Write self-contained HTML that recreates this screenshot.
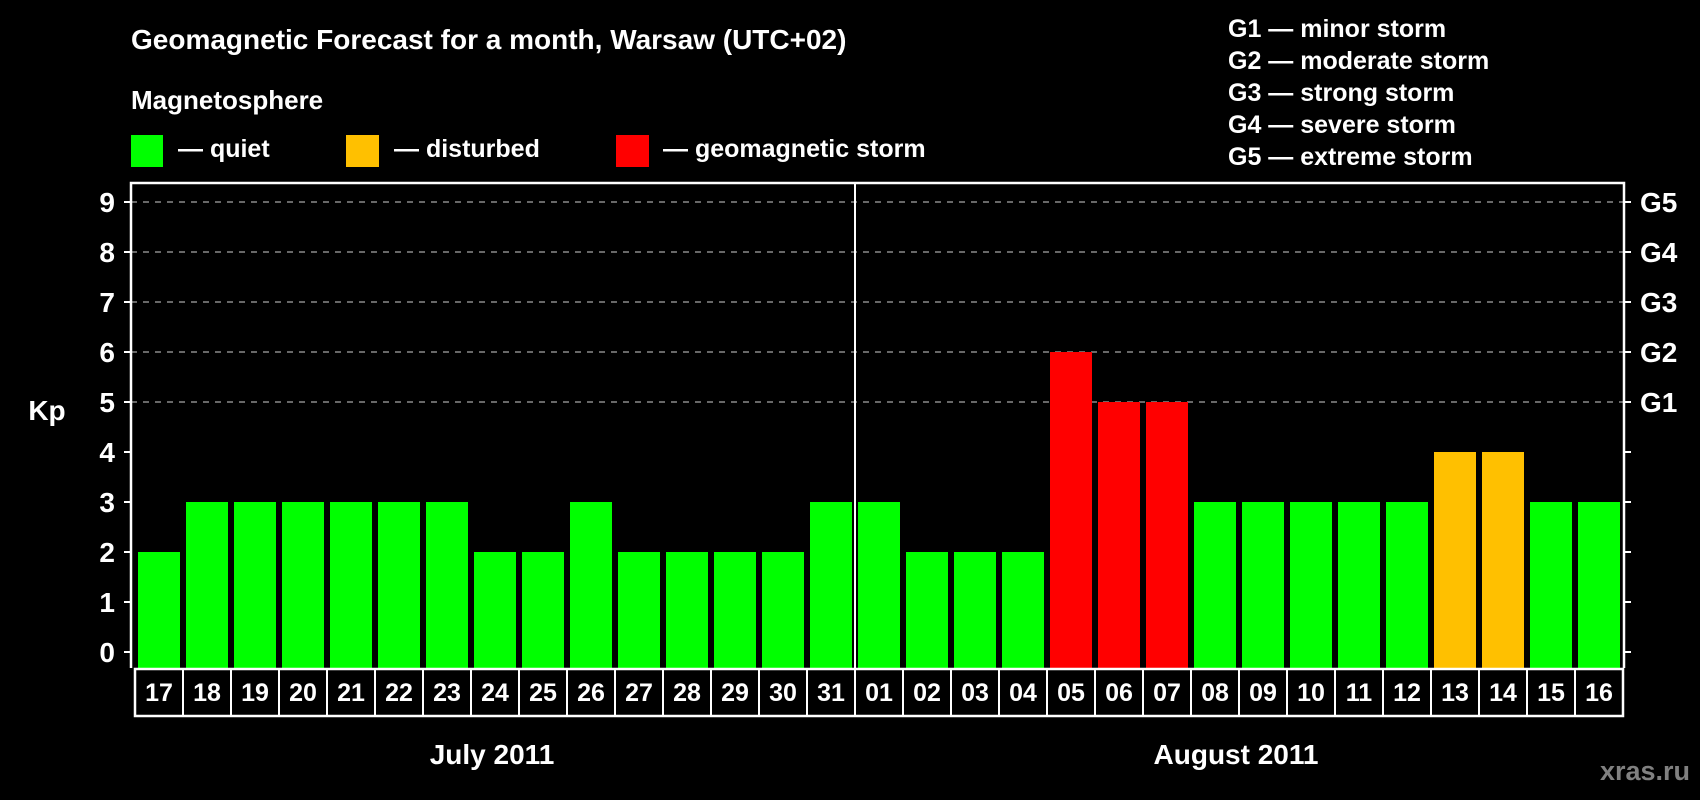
<!DOCTYPE html>
<html><head><meta charset="utf-8"><style>
html,body{margin:0;padding:0;background:#000;}
svg{display:block;font-family:"Liberation Sans",Arial,sans-serif;font-weight:bold;}
</style></head><body>
<svg id="chart" width="1700" height="800" viewBox="0 0 1700 800" xmlns="http://www.w3.org/2000/svg">
<rect x="0" y="0" width="1700" height="800" fill="#000"/>
<text x="131" y="49" fill="#fff" font-size="28">Geomagnetic Forecast for a month, Warsaw (UTC+02)</text>
<text x="131" y="109" fill="#fff" font-size="26">Magnetosphere</text>
<g>
<rect x="131" y="135" width="32" height="32" fill="#00ff00"/>
<text x="178" y="157" fill="#fff" font-size="25">— quiet</text></g>
<g>
<rect x="346" y="135" width="33" height="32" fill="#ffc000"/>
<text x="394" y="157" fill="#fff" font-size="25">— disturbed</text></g>
<g>
<rect x="616" y="135" width="33" height="32" fill="#ff0000"/>
<text x="663" y="157" fill="#fff" font-size="25">— geomagnetic storm</text></g>
<g fill="#fff" font-size="25">
<text x="1228" y="37">G1 — minor storm</text>
<text x="1228" y="69">G2 — moderate storm</text>
<text x="1228" y="101">G3 — strong storm</text>
<text x="1228" y="133">G4 — severe storm</text>
<text x="1228" y="165">G5 — extreme storm</text>
</g>
<g id="grid"></g>
<g id="bars"></g>
<g id="axes"></g>
<g id="xlabels"></g>
<text x="47" y="420" fill="#fff" font-size="28" text-anchor="middle">Kp</text>
<text x="492" y="764" fill="#fff" font-size="28" text-anchor="middle">July 2011</text>
<text x="1236" y="764" fill="#fff" font-size="28" text-anchor="middle">August 2011</text>
<text x="1690" y="780" fill="#808080" font-size="27" text-anchor="end">xras.ru</text>
</svg>
<script>
const days = ["17","18","19","20","21","22","23","24","25","26","27","28","29","30","31","01","02","03","04","05","06","07","08","09","10","11","12","13","14","15","16"];
const kpValues = [2,3,3,3,3,3,3,2,2,3,2,2,2,2,3,3,2,2,2,6,5,5,3,3,3,3,3,4,4,3,3];
const yTicks = [0,1,2,3,4,5,6,7,8,9];
const gLevels = ["G1","G2","G3","G4","G5"];
const gKp = [5,6,7,8,9];

const NS = "http://www.w3.org/2000/svg";
const L = 131, R = 1624, T = 183, B = 668;
const x0 = 135, slot = 48;
function yScale(v){ return 652 - v*50; }
function xSlot(i){ return x0 + i*slot; }
function mk(tag, attrs, parent){
  const e = document.createElementNS(NS, tag);
  for (const k in attrs) e.setAttribute(k, attrs[k]);
  parent.appendChild(e); return e;
}
function color(v){ return v >= 5 ? "#ff0000" : (v >= 4 ? "#ffc000" : "#00ff00"); }

const grid = document.getElementById("grid");
const bars = document.getElementById("bars");
const axes = document.getElementById("axes");
const xl = document.getElementById("xlabels");

gKp.forEach(function(v){
  const g = mk("line", {x1:L, x2:R, y1:yScale(v), y2:yScale(v), stroke:"#8a8a8a", "stroke-width":1.5, "stroke-dasharray":"6 6"}, grid);
  
  
});

kpValues.forEach(function(v, i){
  const r = mk("rect", {x:xSlot(i)+3, y:yScale(v), width:42, height:B-yScale(v), fill:color(v)}, bars);
  
  
});

// plot frame
const fr = mk("path", {d:"M"+L+" "+B+" L"+L+" "+T+" L"+R+" "+T+" L"+R+" "+B, fill:"none", stroke:"#fff", "stroke-width":2.5}, axes);


const dv = mk("line", {x1:xSlot(15), x2:xSlot(15), y1:T, y2:B, stroke:"#fff", "stroke-width":2}, axes);



yTicks.forEach(function(v){
  const y = yScale(v);
  const t1 = mk("line", {x1:124, x2:L, y1:y, y2:y, stroke:"#fff", "stroke-width":2}, axes);
  
  
  const t2 = mk("line", {x1:R, x2:R+7, y1:y, y2:y, stroke:"#fff", "stroke-width":2}, axes);
  
  
  const tx = mk("text", {x:115, y:y+10, fill:"#fff", "font-size":28, "text-anchor":"end"}, axes);
  tx.textContent = String(v);
  
  
});
gLevels.forEach(function(g, i){
  const tx = mk("text", {x:1640, y:yScale(gKp[i])+10, fill:"#fff", "font-size":28}, axes);
  tx.textContent = g;
  
  
});

// date boxes
const box = mk("rect", {x:x0, y:669, width:slot*days.length, height:47, fill:"none", stroke:"#fff", "stroke-width":2.5}, xl);


days.forEach(function(d, i){
  if (i > 0) {
    const ln = mk("line", {x1:xSlot(i), x2:xSlot(i), y1:669, y2:716, stroke:"#fff", "stroke-width":2}, xl);
    
    
  }
  const tx = mk("text", {x:xSlot(i)+slot/2, y:701, fill:"#fff", "font-size":25, "text-anchor":"middle"}, xl);
  tx.textContent = d;
  
  
});
</script>
</body></html>
